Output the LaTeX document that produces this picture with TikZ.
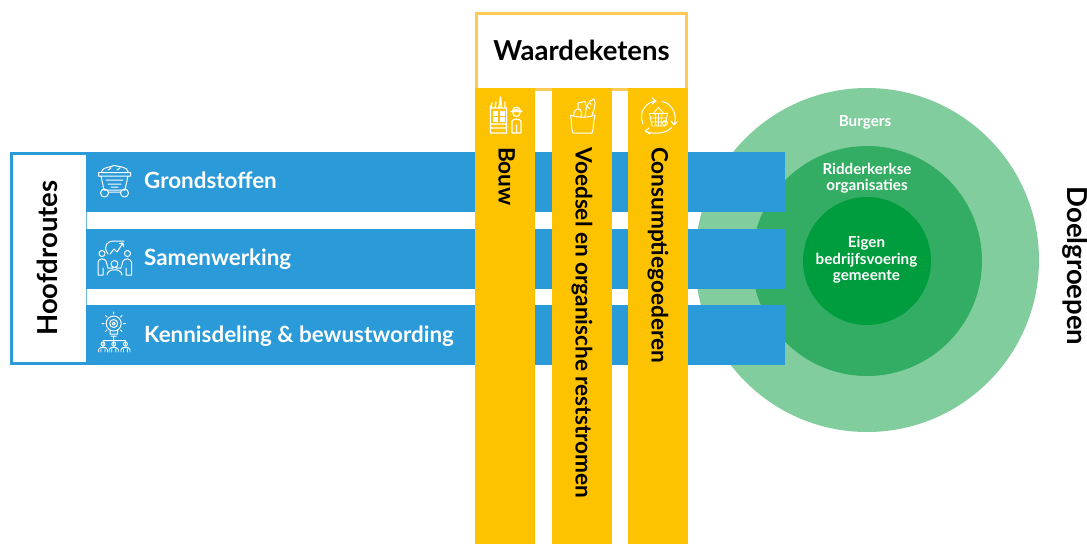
\documentclass[tikz,border=0pt]{standalone}
\usepackage{fontspec}
\setmainfont{Lato}
\usetikzlibrary{positioning}
\definecolor{routeblue}{HTML}{2A9AD8}
\definecolor{ketenyellow}{HTML}{FDC300}
\definecolor{ketenline}{HTML}{FDCB55}
\definecolor{greenouter}{HTML}{82CD9D}
\definecolor{greenmiddle}{HTML}{33AD63}
\definecolor{greeninner}{HTML}{009D3E}
\tikzset{
    node distance=76.5pt,
    route/.style={fill=routeblue, minimum width=699pt, minimum height=60pt, inner sep=0pt},
    keten/.style={fill=ketenyellow, minimum width=60pt, minimum height=456pt, inner sep=0pt},
    routetext/.style={text=white, font=\fontsize{22.4}{26}\selectfont\bfseries, inner sep=0pt, anchor=west, text height=15pt, text depth=4pt},
    ketentext/.style={text=black, font=\fontsize{22.6}{26}\selectfont\bfseries, inner sep=0pt, anchor=west, rotate=-90, text height=16pt, text depth=5pt},
    titletext/.style={text=black, font=\fontsize{27.5}{32}\selectfont\bfseries, inner sep=0pt},
    ring/.style={circle, inner sep=0pt},
    ringtext/.style={text=white, align=center, inner sep=0pt, font=\fontsize{15.2}{16.5}\selectfont\bfseries},
    icon/.style={draw=white, line width=1pt, line cap=round, line join=round},
}
\begin{document}
\begin{tikzpicture}[x=1pt,y=-1pt,on grid]
      \useasboundingbox (0,0) rectangle (1087,544);
      % doelgroepen
      \node (q_burgers) [ring, fill=greenouter, minimum size=344pt] at (867,260) {};
      \node (q_organisaties) [ring, fill=greenmiddle, minimum size=230pt] at (867,261) {};
      \node (q_gemeente) [ring, fill=greeninner, minimum size=128pt] at (867,261) {};
      \node (t_burgers) [ringtext] at (865,122.5) {Burgers};
      \node (t_organisaties) [ringtext] at (867,178) {Ridderkerkse\\organisaties};
      \node (t_gemeente) [ringtext] at (866.5,260) {Eigen\\bedrijfsvoering\\gemeente};
      \node (t_doelgroepen) [titletext, rotate=-90] at (1075,266) {Doelgroepen};

      % hoofdroutes
      \node (q_hoofdroutes) [minimum width=74.5pt, minimum height=210pt, inner sep=0pt] at (48.75,258.5) {};
      \draw[routeblue, line width=3pt] (q_hoofdroutes.north east) -- (q_hoofdroutes.north west)
        -- (q_hoofdroutes.south west) -- (q_hoofdroutes.south east);
      \draw[routeblue!70, line width=.6pt] (q_hoofdroutes.north east) -- (q_hoofdroutes.south east);
      \node (t_hoofdroutes) [titletext, rotate=90] at (47.5,258) {Hoofdroutes};
      \node (q_grondstoffen) [route] at (435.5,182) {};
      \node (q_samenwerking) [route, below of=q_grondstoffen] {};
      \node (q_kennis) [route, below of=q_samenwerking] {};
      \node (t_grondstoffen) [routetext] at (144,183) {Grondstoffen};
      \node (t_samenwerking) [routetext] at (144,260) {Samenwerking};
      \node (t_kennis) [routetext] at (144,337) {Kennisdeling \& bewustwording};

      % waardeketens
      \node (q_waarde) [draw=ketenline, line width=3pt, fill=white, minimum width=210pt, minimum height=76pt, inner sep=0pt] at (581.5,51) {};
      \node (t_waarde) [titletext] at (581.5,50) {Waardeketens};
      \node (q_bouw) [keten] at (505,316) {};
      \node (q_voedsel) [keten, right of=q_bouw] {};
      \node (q_consumptie) [keten, right of=q_voedsel] {};
      \node (t_bouw) [ketentext] at (504,147) {Bouw};
      \node (t_voedsel) [ketentext] at (581,147) {Voedsel en organische reststromen};
      \node (t_consumptie) [ketentext] at (657,147) {Consumptiegoederen};

      % iconen
      \draw[icon] (98.5,172.5) -- (130.5,172.5) -- (130.5,176) -- (98.5,176) -- cycle
        (101,172.5) .. controls (103,166) and (110,168) .. (114,165.5) .. controls (119,167) and (127,166) .. (128.5,172.5)
        (108,170) -- (111,168) (117,170) -- (120,168)
        (101,176) -- (104,190) -- (125,190) -- (128,176)
        (106,180) -- (123,180) (108,184) -- (121,184) (111,187) -- (118,187)
        (109,192) -- (120,192)
        (104.5,193) circle (4pt) (124.5,193) circle (4pt);

      \draw[icon] (108,254) .. controls (102,246) and (108,241) .. (113,241) -- (124,241)
        (110,254) -- (114,249) -- (117,252) -- (123,243) (123,243) -- (119.5,243.5) (123,243) -- (123.5,246.5)
        (102,253.5) circle (3pt) (127.5,253.5) circle (3pt) (114.5,264) circle (3.5pt)
        (98,274) -- (98,262) .. controls (99,258) and (104,258) .. (106,261) -- (108,268) -- (113,268)
        (131.5,274) -- (131.5,262) .. controls (130,258) and (125,258) .. (123,261) -- (121,268) -- (116,268)
        (107,275) .. controls (107,268) and (122,268) .. (122,275)
        (103,268) -- (103,275) -- (98,275) (126,268) -- (126,275) -- (131.5,275);

      \draw[icon] (113.7,323.5) circle (7.5pt) (113.7,323.5) circle (4pt) (113.7,323.5) circle (1.5pt)
        (110,330) -- (110,334) -- (117.5,334) -- (117.5,330) (111,336) -- (116.5,336)
        (113.7,312) -- (113.7,314) (105.5,315.5) -- (107,317) (122,315.5) -- (120.5,317)
        (102,323.5) -- (104,323.5) (123.5,323.5) -- (125.5,323.5) (105.5,331.5) -- (107,330) (122,331.5) -- (120.5,330)
        (113.7,336) -- (113.7,345) (103,345) -- (103,340.5) -- (125.5,340.5) -- (125.5,345);
      \foreach \px in {103,113.7,125.5}{
        \draw[icon, line width=.9pt] (\px,344) circle (2pt)
          (\px-4.5,352) -- (\px-4.5,349.5) .. controls (\px-4,346.5) and (\px+4,346.5) .. (\px+4.5,349.5) -- (\px+4.5,352)
          (\px-2,349) -- (\px-2,352) (\px+2,349) -- (\px+2,352);
      }

      \draw[icon, line width=1.4pt] (490.5,133) rectangle (506.5,108)
        (490.5,108) -- (492,103) (495,108) -- (496,102) (499,108) -- (500.5,97) -- (501.5,108) (505,108) -- (505,102)
        (490.5,124) -- (506.5,124) (490.5,128) -- (506.5,128);
      \foreach \wx in {493,500}\foreach \wy in {111,117}{
        \fill[white] (\wx,\wy) rectangle ++(4.5,4.5);
      }
      \draw[icon, line width=1.2pt] (516.5,113) circle (3.5pt)
        (511,111.5) -- (522,111.5) (512.5,111) .. controls (512.5,106) and (520.5,106) .. (520.5,111)
        (512,133) -- (512,121) .. controls (513,118.5) and (520,118.5) .. (521,121) -- (521,133) -- cycle
        (516.5,125) -- (516.5,133);

      \draw[icon] (570.5,115) .. controls (572,122) and (571,129) .. (573,133) -- (592,133)
          .. controls (594,129) and (593,122) .. (595,115) .. controls (587,118) and (578,118) .. (570.5,115)
        (585,116) .. controls (586,108) and (588,100) .. (594,99) .. controls (597,104) and (593,112) .. (592,115)
        (588,107) -- (590,109) (590,103) -- (592,105)
        (574,116) .. controls (573,112) and (576,108) .. (580,109) .. controls (582,111) and (582,114) .. (581,117)
        (578,108) -- (578,103) -- (585,101.5) -- (586,106);

      \draw[icon] (645,131) .. controls (650,134) and (666,135) .. (672,127)
        (645,131) -- (649,128) (645,131) -- (650,134)
        (643,124) .. controls (638,112) and (646,102) .. (656,101) (656,101) -- (652,98) (656,101) -- (652,104)
        (662,101.5) .. controls (672,103) and (678,115) .. (674,125) (674,125) -- (671,121) (674,125) -- (677,122);
      \draw[icon, line width=.8pt] (649.5,113.5) -- (667.5,113.5) -- (665,126) -- (652,126) -- cycle
        (653,113.5) -- (658.5,107.5) -- (664,113.5)
        (650.5,118) -- (666.5,118) (651,122) -- (666,122)
        (655,113.5) -- (656,126) (658.5,113.5) -- (658.5,126) (662,113.5) -- (661,126)
        (665,123) circle (2.5pt);
    \end{tikzpicture}
\end{document}
